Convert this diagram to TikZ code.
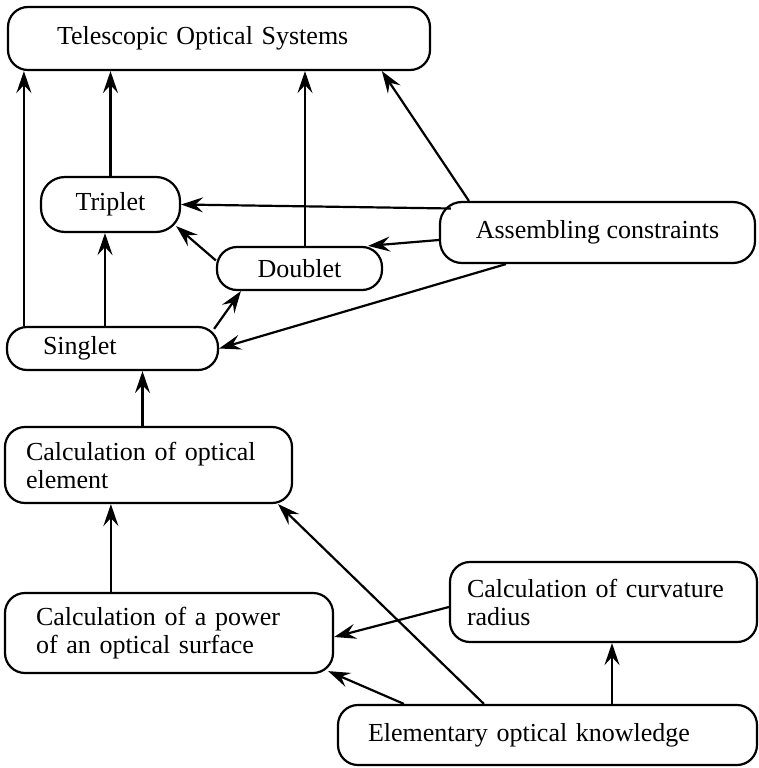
\documentclass[tikz,border=0pt]{standalone}
\usepackage{fontspec}
\setmainfont{Liberation Serif}
\usetikzlibrary{arrows.meta}
\begin{document}
\begin{tikzpicture}[x=1pt,y=-1pt,
  every node/.style={font=\fontsize{26}{28}\selectfont},
  box/.style={draw, line width=2.2pt, rounded corners=20pt, inner ysep=0pt, align=left},
  arr/.style={line width=2.2pt, -{Stealth[length=22pt,width=15pt,inset=8pt]}}]
\useasboundingbox (0,0) rectangle (759,768);

% boxes: minimum size fixes the outline, text width and inner xsep place the text
\node[box, minimum width=422, minimum height=63, inner xsep=49, text width=324] (tos) at (219,38.5) {Telescopic Optical Systems};
\node[box, minimum width=139, minimum height=55, rounded corners=24pt, align=center] (triplet) at (110.5,204.5) {Triplet};
\node[box, minimum width=165, minimum height=43, align=center] (doublet) at (299.5,268.5) {Doublet};
\node[box, minimum width=211, minimum height=43, inner xsep=36, text width=139] (singlet) at (112.5,348.5) {Singlet};
\node[box, minimum width=315, minimum height=61, rounded corners=22pt, align=center] (asm) at (597.5,232.5) {Assembling constraints};
\node[box, minimum width=287, minimum height=76, inner xsep=21, text width=245] (element) at (148.5,465) {Calculation of optical\\element};
\node[box, minimum width=328, minimum height=80, inner xsep=31, text width=266] (power) at (169,633) {Calculation of a power\\of an optical surface};
\node[box, minimum width=307, minimum height=80, inner xsep=17, text width=273] (curv) at (603.5,602) {Calculation of curvature\\radius};
\node[box, minimum width=419, minimum height=60, inner xsep=30, text width=359] (elem) at (547.5,735) {Elementary optical knowledge};

% into the top box
\draw[arr] ([xshift=18pt]singlet.north west) -- ([xshift=18pt]singlet.north west |- tos.south);
\draw[arr] (triplet.north) -- (triplet.north |- tos.south);
\draw[arr] ([xshift=5.5pt]doublet.north) -- ([xshift=5.5pt]doublet.north |- tos.south);
\draw[arr] ([xshift=30pt]asm.north west) -- ([xshift=375pt]tos.south west);

% lens groups
\draw[arr] ([xshift=-5.5pt]triplet.south |- singlet.north) -- ([xshift=-5.5pt]triplet.south);
\draw[arr] ([xshift=-5pt,yshift=-3pt]singlet.north east) -- ([xshift=25pt]doublet.south west);
\draw[arr] ([yshift=8pt]doublet.west) -- ([xshift=-5pt,yshift=7pt]triplet.south east);
\draw[arr] ([xshift=12pt,yshift=24pt]asm.west) -- (triplet.east);
\draw[arr] ([yshift=-7.5pt]asm.west) -- ([xshift=-15pt]doublet.north east);
\draw[arr] ([xshift=67pt]asm.south west) -- (singlet.east);

% calculation chain
\draw[arr] ([xshift=30pt]singlet.south |- element.north) -- ([xshift=30pt]singlet.south);
\draw[arr] ([xshift=107pt]element.south west |- power.north) -- ([xshift=107pt]element.south west);
\draw[arr] ([xshift=8.5pt]curv.south |- elem.north) -- ([xshift=8.5pt]curv.south);
\draw[arr] ([xshift=67pt]elem.north west) -- ([xshift=-6pt,yshift=3pt]power.south east);
\draw[arr] ([xshift=147pt]elem.north west) -- ([xshift=-15pt]element.south east);
\draw[arr] ([yshift=-5pt]curv.west) -- ([yshift=-4pt]power.east);
\end{tikzpicture}
\end{document}
